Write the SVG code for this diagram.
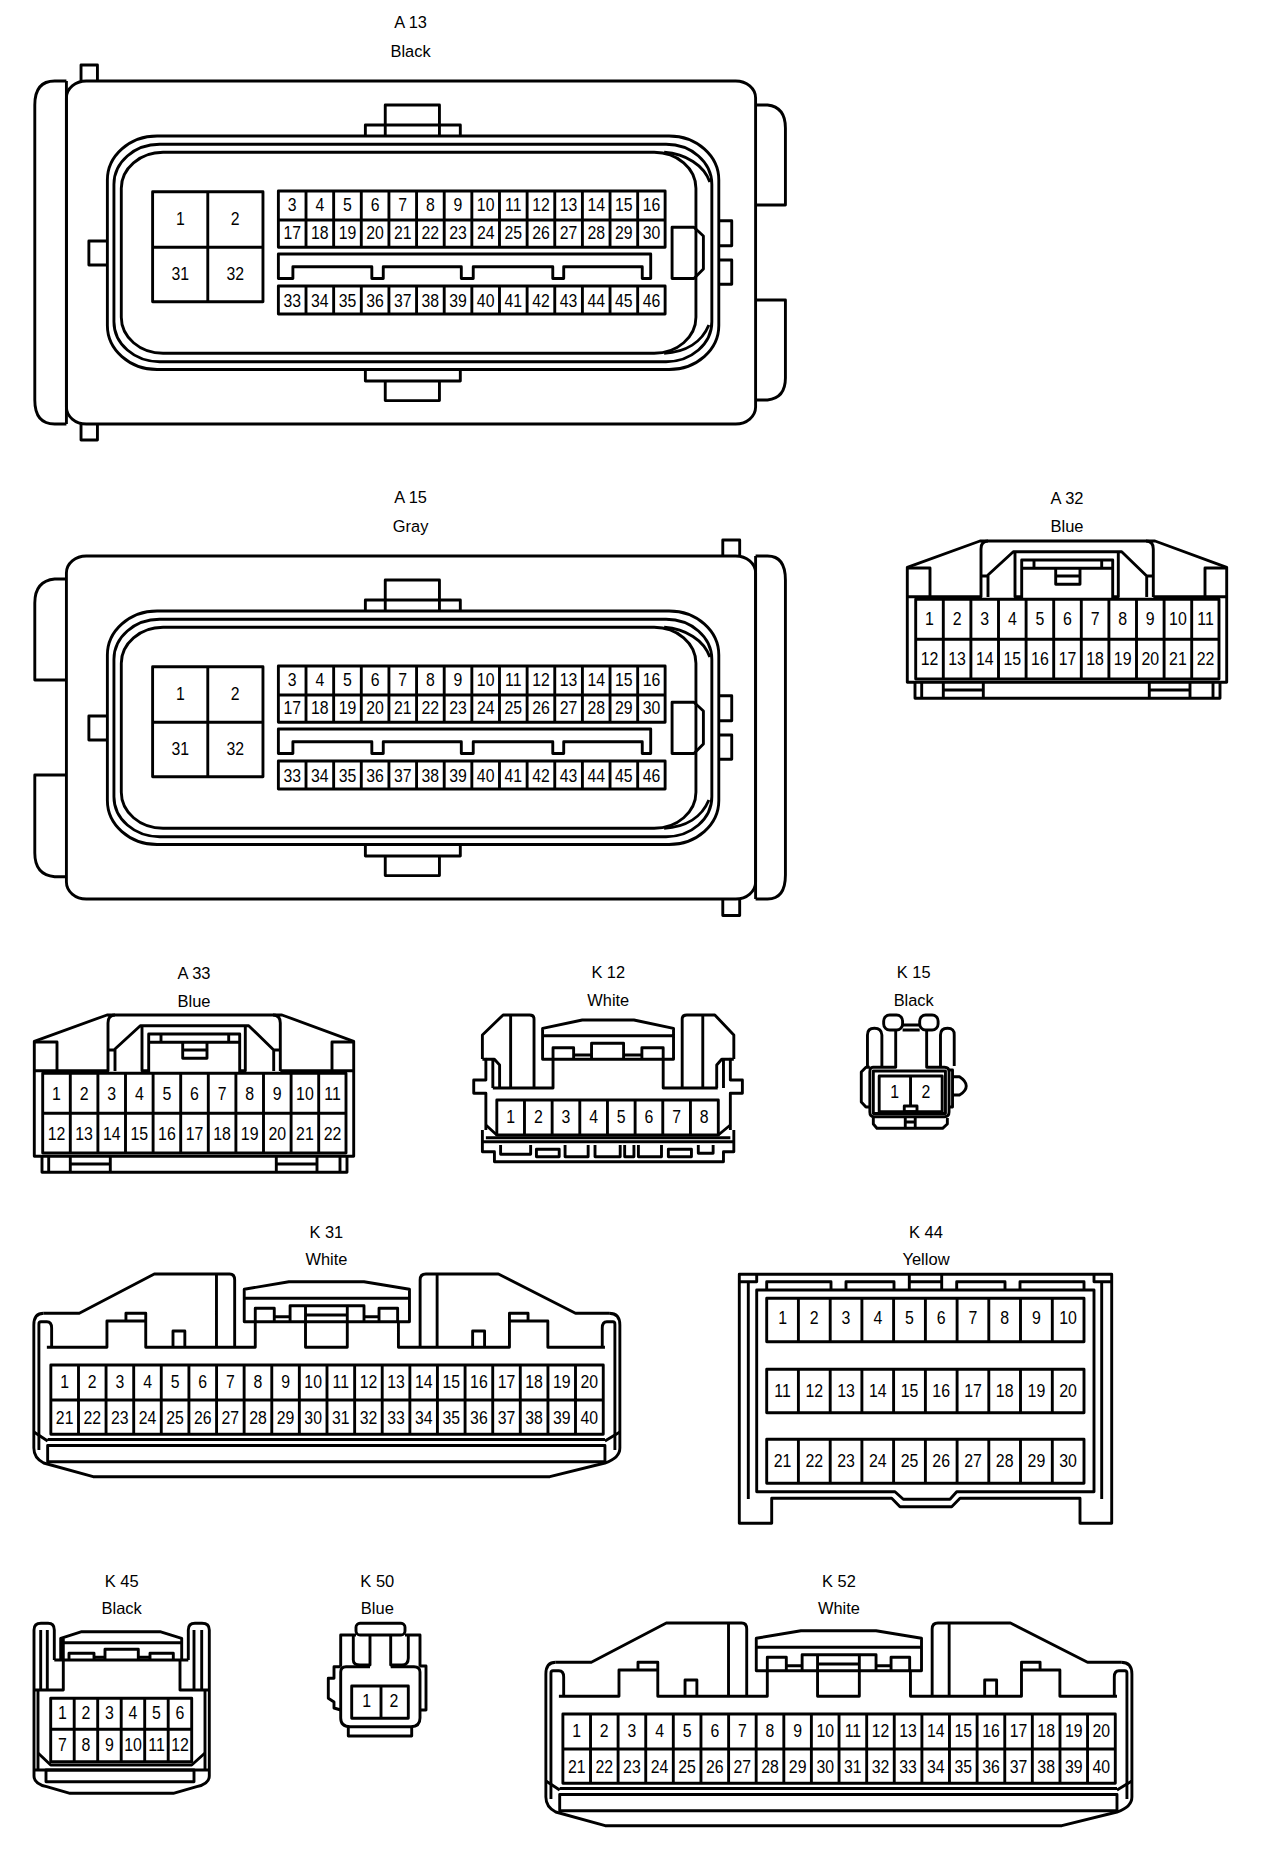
<svg xmlns="http://www.w3.org/2000/svg" xmlns:xlink="http://www.w3.org/1999/xlink" width="1280" height="1858" viewBox="0 0 1280 1858">
<style>
.s{fill:none;stroke:#000;stroke-width:2.9;stroke-linejoin:round}
text{font-family:"Liberation Sans",Arial,sans-serif;fill:#000}
.l{font-size:16.5px;text-anchor:middle}
.p text{font-size:18.5px;text-anchor:middle;transform-box:fill-box;transform-origin:center;transform:scaleX(.86)}
</style>
<defs>
<g id="ecu-inner" class="s">
<path d="M387.5 136V105H442V136M367.5 136V125H463V136"/>
<path d="M367.5 369.5V381H463V369.5M387.5 381V400.6H442V381"/>
<rect x="108" y="136" width="615" height="233.5" rx="50" ry="44"/>
<rect x="114.6" y="144.3" width="601.4" height="217.4" rx="46" ry="40"/>
<rect x="122" y="152.3" width="578" height="201" rx="42" ry="36"/>
<path d="M668 152.3C690 154 708 165 714 182M668 353.3C690 352 706 342 713 325"/>
<path d="M108 241H89.4V265H108M723 220.7H736V245.7H723M723 260H736V284.3H723"/>
<rect x="153.5" y="191.7" width="111" height="110"/>
<path d="M209 191.7V301.7M153.5 247.3H264.5"/>
<rect x="280" y="191" width="389" height="56.3"/>
<rect x="280" y="286" width="389" height="28"/>
<path d="M280 220H669M307.8 191V247.3M335.6 191V247.3M363.4 191V247.3M391.2 191V247.3M419 191V247.3M446.8 191V247.3M474.6 191V247.3M502.4 191V247.3M530.2 191V247.3M558 191V247.3M585.8 191V247.3M613.6 191V247.3M641.4 191V247.3"/>
<path d="M307.8 286V314M335.6 286V314M363.4 286V314M391.2 286V314M419 286V314M446.8 286V314M474.6 286V314M502.4 286V314M530.2 286V314M558 286V314M585.8 286V314M613.6 286V314M641.4 286V314"/>
<path d="M280 254H654.5V278.5H646V266.7H567V278.5H556V266.7H476V278.5H464V266.7H385.5V278.5H374V266.7H294.6V278.5H280Z"/>
<path d="M676 227.3H698L707.5 236V269L698 278.5H676Z"/>
</g>
<g id="a32-shell" class="s">
<path d="M907.3 682.3V567.3L980 541H1155L1226.7 567.3V682.3Z"/>
<path d="M915.7 599.3H1219V679H915.7Z"/>
<path d="M915.7 639.3H1219M943.3 599.3V679M970.9 599.3V679M998.5 599.3V679M1026.1 599.3V679M1053.7 599.3V679M1081.3 599.3V679M1108.9 599.3V679M1136.5 599.3V679M1164.1 599.3V679M1191.7 599.3V679"/>
<path d="M907.3 596.7H981V549Q981 541 988 541M1021 596.7H1015V551.7M1146.7 597V576L1121.7 551.7H1013.3L988 575V597M987.3 576H981M1118.3 551.7V596.7H1112.7M1146.7 576H1153.3M1153.3 597V549Q1153.3 541 1146 541M1153.3 596.7H1226.7"/>
<path d="M907.3 568H930V596.7M1226.7 568H1205V596.7"/>
<path d="M1021.7 598V560H1112.7V598M1021.7 568.3H1112.7M1034 560V568.3M1101.7 560V568.3"/>
<path d="M1055.7 568.3V584.3H1080V568.3M1055.7 576H1080"/>
<path d="M915 682.3V698.3H1220V682.3M921.7 682.3V698.3M1213 682.3V698.3M943.3 682.3V698.3M983.3 682.3V698.3M1149.3 682.3V698.3M1190 682.3V698.3M943.3 690H983.3M1149.3 690H1190"/>
</g>
<g id="k31-shell" class="s">
<path d="M43.8 1313.3H79.6L155 1274H230.7Q235.8 1274 235.8 1280V1347M217.5 1274V1347.3"/>
<path d="M612.2 1313.3H578.4L500.9 1274H428Q422.2 1274 422.2 1280V1347M439.3 1274V1347.3"/>
<path d="M43.8 1313.3Q33.9 1313.3 33.9 1325V1448Q33.9 1458 43.8 1463L93.5 1476.7H552.6L608 1463Q623 1458 623 1448V1325Q623 1313.3 612.2 1313.3"/>
<path d="M47 1347.3H107.4V1321H146.4V1347.3H256.5V1321.7M126.5 1321V1313.3H146.4V1321M173.8 1347.3V1331H185.7V1347.3"/>
<path d="M608 1347.3H550.6V1321H512V1347.3H400.4V1321.7M512 1321V1313.3H530.7V1321M475 1347.3V1331H487V1347.3"/>
<path d="M245.4 1321.7V1289.3L290.3 1281.7H365.8L411.5 1289.3V1321.7ZM245.4 1298.3H411.5"/>
<path d="M256.5 1321.7V1308.3H275.6V1321.7M291.5 1321.7V1305.7H365.8V1321.7M380.9 1321.7V1308.3H399.6V1321.7M275.6 1316.7H291.5M365.8 1316.7H380.9M307 1305.7V1347.3H349V1305.7M307 1315H349"/>
<path d="M39 1450V1324Q39 1321.7 41 1321.7H47Q51.8 1321.7 51.8 1328V1347.3M618 1450V1324Q618 1321.7 616 1321.7H610Q605.3 1321.7 605.3 1328V1347.3"/>
<rect x="51" y="1365" width="555.3" height="69.3"/>
<path d="M51 1400H606.3M78.8 1365V1434.3M106.5 1365V1434.3M134.3 1365V1434.3M162 1365V1434.3M189.8 1365V1434.3M217.6 1365V1434.3M245.3 1365V1434.3M273.1 1365V1434.3M300.8 1365V1434.3M328.6 1365V1434.3M356.4 1365V1434.3M384.1 1365V1434.3M411.9 1365V1434.3M439.6 1365V1434.3M467.4 1365V1434.3M495.2 1365V1434.3M522.9 1365V1434.3M550.7 1365V1434.3M578.4 1365V1434.3"/>
<path d="M34 1432L47.8 1441M608 1441L623 1432M47.8 1439.5H608M47.8 1445.5H608V1461.7H47.8Z"/>
</g>
</defs>
<rect width="1280" height="1858" fill="#fff"/>

<g id="A13" transform="matrix(.9942 0 0 1 0 0)">
<text class="l" x="413" y="28.5">A 13</text>
<text class="l" x="413" y="56.7">Black</text>
<g class="s">
<rect x="66.8" y="81" width="693.2" height="343" rx="20" ry="17"/>
<path d="M66.8 81H55Q35 81 35 105V400Q35 424 55 424H66.8M66.8 81V424"/>
<path d="M81.5 81V65H98V81M81.5 424V440H98V424"/>
<path d="M760 105H772Q790 107 790 128V205H760M760 300H790V378Q790 398 772 400H760"/>
</g>
<use xlink:href="#ecu-inner" href="#ecu-inner"/>
<g id="A13-pins" class="p">
<text x="181.4" y="225">1</text><text x="236.6" y="225">2</text><text x="181.4" y="280">31</text><text x="236.6" y="280">32</text>
<text x="293.9" y="210.7">3</text><text x="321.7" y="210.7">4</text><text x="349.5" y="210.7">5</text><text x="377.3" y="210.7">6</text><text x="405.1" y="210.7">7</text><text x="432.9" y="210.7">8</text><text x="460.7" y="210.7">9</text><text x="488.5" y="210.7">10</text><text x="516.3" y="210.7">11</text><text x="544.1" y="210.7">12</text><text x="571.9" y="210.7">13</text><text x="599.7" y="210.7">14</text><text x="627.5" y="210.7">15</text><text x="655.3" y="210.7">16</text>
<text x="293.9" y="239.3">17</text><text x="321.7" y="239.3">18</text><text x="349.5" y="239.3">19</text><text x="377.3" y="239.3">20</text><text x="405.1" y="239.3">21</text><text x="432.9" y="239.3">22</text><text x="460.7" y="239.3">23</text><text x="488.5" y="239.3">24</text><text x="516.3" y="239.3">25</text><text x="544.1" y="239.3">26</text><text x="571.9" y="239.3">27</text><text x="599.7" y="239.3">28</text><text x="627.5" y="239.3">29</text><text x="655.3" y="239.3">30</text>
<text x="293.9" y="306.7">33</text><text x="321.7" y="306.7">34</text><text x="349.5" y="306.7">35</text><text x="377.3" y="306.7">36</text><text x="405.1" y="306.7">37</text><text x="432.9" y="306.7">38</text><text x="460.7" y="306.7">39</text><text x="488.5" y="306.7">40</text><text x="516.3" y="306.7">41</text><text x="544.1" y="306.7">42</text><text x="571.9" y="306.7">43</text><text x="599.7" y="306.7">44</text><text x="627.5" y="306.7">45</text><text x="655.3" y="306.7">46</text>
</g>
</g>

<g id="A15" transform="matrix(.9942 0 0 1 0 0)">
<text class="l" x="413" y="503.5">A 15</text>
<text class="l" x="413" y="531.7">Gray</text>
<g class="s">
<rect x="66.8" y="556" width="693.2" height="343" rx="20" ry="17"/>
<path d="M760 556H772Q790 556 790 580V875Q790 899 772 899H760M760 556V899"/>
<path d="M727 556V540H744V556M727 899V915.5H744V899"/>
<path d="M66.8 579H55Q35 581 35 603V680H66.8M66.8 775H35V853Q35 875 55 876.7H66.8"/>
</g>
<use xlink:href="#ecu-inner" href="#ecu-inner" y="475"/>
<g id="A15-pins" class="p" transform="translate(0,475)">
<text x="181.4" y="225">1</text><text x="236.6" y="225">2</text><text x="181.4" y="280">31</text><text x="236.6" y="280">32</text>
<text x="293.9" y="210.7">3</text><text x="321.7" y="210.7">4</text><text x="349.5" y="210.7">5</text><text x="377.3" y="210.7">6</text><text x="405.1" y="210.7">7</text><text x="432.9" y="210.7">8</text><text x="460.7" y="210.7">9</text><text x="488.5" y="210.7">10</text><text x="516.3" y="210.7">11</text><text x="544.1" y="210.7">12</text><text x="571.9" y="210.7">13</text><text x="599.7" y="210.7">14</text><text x="627.5" y="210.7">15</text><text x="655.3" y="210.7">16</text>
<text x="293.9" y="239.3">17</text><text x="321.7" y="239.3">18</text><text x="349.5" y="239.3">19</text><text x="377.3" y="239.3">20</text><text x="405.1" y="239.3">21</text><text x="432.9" y="239.3">22</text><text x="460.7" y="239.3">23</text><text x="488.5" y="239.3">24</text><text x="516.3" y="239.3">25</text><text x="544.1" y="239.3">26</text><text x="571.9" y="239.3">27</text><text x="599.7" y="239.3">28</text><text x="627.5" y="239.3">29</text><text x="655.3" y="239.3">30</text>
<text x="293.9" y="306.7">33</text><text x="321.7" y="306.7">34</text><text x="349.5" y="306.7">35</text><text x="377.3" y="306.7">36</text><text x="405.1" y="306.7">37</text><text x="432.9" y="306.7">38</text><text x="460.7" y="306.7">39</text><text x="488.5" y="306.7">40</text><text x="516.3" y="306.7">41</text><text x="544.1" y="306.7">42</text><text x="571.9" y="306.7">43</text><text x="599.7" y="306.7">44</text><text x="627.5" y="306.7">45</text><text x="655.3" y="306.7">46</text>
</g>
</g>

<g id="A32">
<text class="l" x="1067" y="503.5">A 32</text>
<text class="l" x="1067" y="531.7">Blue</text>
<use xlink:href="#a32-shell" href="#a32-shell"/>
<g id="A32-pins" class="p">
<text x="929.5" y="625">1</text><text x="957.1" y="625">2</text><text x="984.7" y="625">3</text><text x="1012.3" y="625">4</text><text x="1039.9" y="625">5</text><text x="1067.5" y="625">6</text><text x="1095.1" y="625">7</text><text x="1122.7" y="625">8</text><text x="1150.3" y="625">9</text><text x="1177.9" y="625">10</text><text x="1205.5" y="625">11</text>
<text x="929.5" y="665">12</text><text x="957.1" y="665">13</text><text x="984.7" y="665">14</text><text x="1012.3" y="665">15</text><text x="1039.9" y="665">16</text><text x="1067.5" y="665">17</text><text x="1095.1" y="665">18</text><text x="1122.7" y="665">19</text><text x="1150.3" y="665">20</text><text x="1177.9" y="665">21</text><text x="1205.5" y="665">22</text>
</g>
</g>

<g id="A33">
<text class="l" x="194" y="978.5">A 33</text>
<text class="l" x="194" y="1006.5">Blue</text>
<use xlink:href="#a32-shell" href="#a32-shell" x="-873" y="474"/>
<g id="A33-pins" class="p" transform="translate(-873,475.5)">
<text x="929.5" y="625">1</text><text x="957.1" y="625">2</text><text x="984.7" y="625">3</text><text x="1012.3" y="625">4</text><text x="1039.9" y="625">5</text><text x="1067.5" y="625">6</text><text x="1095.1" y="625">7</text><text x="1122.7" y="625">8</text><text x="1150.3" y="625">9</text><text x="1177.9" y="625">10</text><text x="1205.5" y="625">11</text>
<text x="929.5" y="665">12</text><text x="957.1" y="665">13</text><text x="984.7" y="665">14</text><text x="1012.3" y="665">15</text><text x="1039.9" y="665">16</text><text x="1067.5" y="665">17</text><text x="1095.1" y="665">18</text><text x="1122.7" y="665">19</text><text x="1150.3" y="665">20</text><text x="1177.9" y="665">21</text><text x="1205.5" y="665">22</text>
</g>
</g>

<g id="K12" transform="matrix(.995 0 0 1 2.3 0)">
<text class="l" x="609" y="978.5">K 12</text>
<text class="l" x="609" y="1006.5">White</text>
<g class="s">
<path d="M493 1088H553.5V1059.3M534.4 1088V1019Q534.4 1015 530 1015H503.3L482.5 1035V1059M510.9 1015V1088"/>
<path d="M719 1088H664.2V1059.3M683.3 1088V1019Q683.3 1015 688 1015H716.1L735.2 1035V1059M704 1015V1088"/>
<path d="M543 1059.3V1028.3L582.9 1020H634.8L674.6 1028.3V1059.3ZM543 1035.7H674.6"/>
<path d="M553.5 1059.3V1047.7H574.2V1059.3M592.2 1059.3V1043.3H624.4V1059.3M642.8 1059.3V1047.7H664.2V1059.3M574.2 1055H592.2M624.4 1055H642.8"/>
<path d="M486 1059.3H494.6L499.8 1065V1088M493 1059.3V1088M731.7 1059.3H723L718 1065V1088M724.8 1059.3V1088"/>
<path d="M482.5 1059.3H486V1080H473.8V1093.3H486V1130M482.5 1130V1151.7H494.6V1161.7H724.8V1151.7H735.2V1130M735.2 1059.3H731.7V1080H743.8V1093.3H731.7V1130"/>
<rect x="497" y="1100" width="222.6" height="35"/>
<path d="M524.8 1100V1135M552.6 1100V1135M580.4 1100V1135M608.2 1100V1135M636 1100V1135M663.8 1100V1135M691.6 1100V1135"/>
<path d="M486 1125L497 1135M731.7 1125L719.6 1135M486 1137.7H731.7M482.5 1141.7H735.2"/>
<path d="M500.8 1145V1154.3H531V1145M565.6 1145V1156.7H588.8V1145M595.7 1145V1156.7H621V1145M625.5 1145V1156.7H634.8V1145M639.3 1145V1156.7H662.5V1145M699.5 1145V1153.3H714.4V1145"/>
<rect x="536.8" y="1149.3" width="22.9" height="7.4"/>
<rect x="669.4" y="1149.3" width="23.2" height="7.4"/>
</g>
<g id="K12-pins" class="p">
<text x="510.9" y="1123.3">1</text><text x="538.7" y="1123.3">2</text><text x="566.5" y="1123.3">3</text><text x="594.3" y="1123.3">4</text><text x="622.1" y="1123.3">5</text><text x="649.9" y="1123.3">6</text><text x="677.7" y="1123.3">7</text><text x="705.5" y="1123.3">8</text>
</g>
</g>

<g id="K15" transform="matrix(.995 0 0 1 2.3 0)">
<text class="l" x="916" y="978.5">K 15</text>
<text class="l" x="916" y="1006.5">Black</text>
<g class="s">
<rect x="885.8" y="1015" width="19" height="15" rx="6"/>
<rect x="922" y="1015" width="18.5" height="15" rx="6"/>
<path d="M904.8 1025H922M904.8 1030H922M897.9 1030V1067.3H875Q871.9 1067.3 871.9 1072V1112Q871.9 1116.7 876 1116.7H947Q951.5 1116.7 951.5 1112V1072Q951.5 1067.3 947 1067.3H929V1030"/>
<path d="M869.5 1066V1035Q869.5 1028.3 876.5 1028.3T884 1035V1066M942.9 1066V1035Q942.9 1028.3 950 1028.3T956.7 1035V1066"/>
<path d="M871.9 1067.3H868L863.3 1072V1102L868 1107H871.9M951.5 1070H955V1107H951.5M955 1076.7H962Q968.8 1081 968.8 1086T962 1095H955"/>
<rect x="875.4" y="1071" width="72.5" height="42.5"/>
<rect x="881.3" y="1076" width="63.3" height="35.7"/>
<path d="M912.8 1076V1106"/>
<rect x="906.5" y="1106" width="12.8" height="5.7"/>
<path d="M875.4 1118V1124L879 1128.3H945L949.8 1124V1118M907.5 1118V1128.3M917.5 1118V1128.3M907.5 1122H917.5"/>
</g>
<g id="K15-pins" class="p"><text x="896.8" y="1098.3">1</text><text x="928.3" y="1098.3">2</text></g>
</g>

<g id="K31" transform="matrix(.9948 0 0 1 .104 0)">
<text class="l" x="328" y="1237.7">K 31</text>
<text class="l" x="328" y="1265">White</text>
<use xlink:href="#k31-shell" href="#k31-shell"/>
<g id="K31-pins" class="p">
<text x="64.9" y="1388.3">1</text><text x="92.6" y="1388.3">2</text><text x="120.4" y="1388.3">3</text><text x="148.2" y="1388.3">4</text><text x="175.9" y="1388.3">5</text><text x="203.7" y="1388.3">6</text><text x="231.4" y="1388.3">7</text><text x="259.2" y="1388.3">8</text><text x="287" y="1388.3">9</text><text x="314.7" y="1388.3">10</text><text x="342.5" y="1388.3">11</text><text x="370.3" y="1388.3">12</text><text x="398" y="1388.3">13</text><text x="425.8" y="1388.3">14</text><text x="453.5" y="1388.3">15</text><text x="481.3" y="1388.3">16</text><text x="509.1" y="1388.3">17</text><text x="536.8" y="1388.3">18</text><text x="564.6" y="1388.3">19</text><text x="592.3" y="1388.3">20</text>
<text x="64.9" y="1424">21</text><text x="92.6" y="1424">22</text><text x="120.4" y="1424">23</text><text x="148.2" y="1424">24</text><text x="175.9" y="1424">25</text><text x="203.7" y="1424">26</text><text x="231.4" y="1424">27</text><text x="259.2" y="1424">28</text><text x="287" y="1424">29</text><text x="314.7" y="1424">30</text><text x="342.5" y="1424">31</text><text x="370.3" y="1424">32</text><text x="398" y="1424">33</text><text x="425.8" y="1424">34</text><text x="453.5" y="1424">35</text><text x="481.3" y="1424">36</text><text x="509.1" y="1424">37</text><text x="536.8" y="1424">38</text><text x="564.6" y="1424">39</text><text x="592.3" y="1424">40</text>
</g>
</g>

<g id="K44">
<text class="l" x="926" y="1237.7">K 44</text>
<text class="l" x="926" y="1265">Yellow</text>
<g class="s">
<path d="M739.3 1274.3H1111.7V1523.3H1080V1498.3H960L951.7 1506.7H900L891.7 1498.3H771.7V1523.3H739.3Z"/>
<path d="M748.3 1281.7V1499M1101.7 1281.7V1499M739.3 1281.7H756.7V1274.3M1111.7 1281.7H1094V1274.3"/>
<path d="M756.7 1290H1094V1491.7H956.7L950 1499.3H903.3L895 1491.7H756.7Z"/>
<path d="M766.7 1290V1281.7H831V1290M846 1290V1281.7H894V1290M909.3 1290V1274.3M941.7 1290V1274.3M909.3 1281.7H941.7M956.7 1290V1281.7H1005V1290M1020 1290V1281.7H1084V1290"/>
<rect x="766.7" y="1298.3" width="317.3" height="43.4"/>
<path d="M798.4 1298.3V1341.7M830.2 1298.3V1341.7M861.9 1298.3V1341.7M893.6 1298.3V1341.7M925.4 1298.3V1341.7M957.1 1298.3V1341.7M988.8 1298.3V1341.7M1020.5 1298.3V1341.7M1052.3 1298.3V1341.7"/>
<rect x="766.7" y="1369.3" width="317.3" height="43.4"/>
<path d="M798.4 1369.3V1412.7M830.2 1369.3V1412.7M861.9 1369.3V1412.7M893.6 1369.3V1412.7M925.4 1369.3V1412.7M957.1 1369.3V1412.7M988.8 1369.3V1412.7M1020.5 1369.3V1412.7M1052.3 1369.3V1412.7"/>
<rect x="766.7" y="1439.3" width="317.3" height="44"/>
<path d="M798.4 1439.3V1483.3M830.2 1439.3V1483.3M861.9 1439.3V1483.3M893.6 1439.3V1483.3M925.4 1439.3V1483.3M957.1 1439.3V1483.3M988.8 1439.3V1483.3M1020.5 1439.3V1483.3M1052.3 1439.3V1483.3"/>
</g>
<g id="K44-pins" class="p">
<text x="782.6" y="1324.3">1</text><text x="814.3" y="1324.3">2</text><text x="846" y="1324.3">3</text><text x="877.8" y="1324.3">4</text><text x="909.5" y="1324.3">5</text><text x="941.2" y="1324.3">6</text><text x="973" y="1324.3">7</text><text x="1004.7" y="1324.3">8</text><text x="1036.4" y="1324.3">9</text><text x="1068.1" y="1324.3">10</text>
<text x="782.6" y="1396.7">11</text><text x="814.3" y="1396.7">12</text><text x="846" y="1396.7">13</text><text x="877.8" y="1396.7">14</text><text x="909.5" y="1396.7">15</text><text x="941.2" y="1396.7">16</text><text x="973" y="1396.7">17</text><text x="1004.7" y="1396.7">18</text><text x="1036.4" y="1396.7">19</text><text x="1068.1" y="1396.7">20</text>
<text x="782.6" y="1466.7">21</text><text x="814.3" y="1466.7">22</text><text x="846" y="1466.7">23</text><text x="877.8" y="1466.7">24</text><text x="909.5" y="1466.7">25</text><text x="941.2" y="1466.7">26</text><text x="973" y="1466.7">27</text><text x="1004.7" y="1466.7">28</text><text x="1036.4" y="1466.7">29</text><text x="1068.1" y="1466.7">30</text>
</g>
</g>

<g id="K45">
<text class="l" x="121.7" y="1586.7">K 45</text>
<text class="l" x="121.7" y="1614.3">Black</text>
<g class="s">
<path d="M34 1690V1630Q34 1623.3 41 1623.3H48Q54.3 1623.3 54.3 1630V1660M40.7 1630V1690M47.3 1630V1690M63.3 1638.3V1690H34"/>
<path d="M209.3 1690V1630Q209.3 1623.3 202 1623.3H195Q188.3 1623.3 188.3 1630V1660M201.7 1630V1690M194 1630V1690M180 1660V1690H209.3"/>
<path d="M60.7 1660V1638.3L81.7 1631.7H160L181.7 1638.3V1660M60.7 1642.7H181.7M54.3 1660H188.3"/>
<path d="M69 1660V1653.3H94V1660M105 1660V1649.3H138.3V1660M150 1660V1653.3H173.3V1660M94 1657.3H105M138.3 1657.3H150"/>
<path d="M34 1690V1776Q34 1784 46.7 1786.7L70 1793.3H173.3L196.7 1786.7Q209.3 1784 209.3 1776V1690M38 1690V1770M205 1690V1770"/>
<rect x="50.7" y="1698.3" width="141" height="63.4"/>
<path d="M50.7 1729.3H191.7M74.2 1698.3V1761.7M97.7 1698.3V1761.7M121.2 1698.3V1761.7M144.7 1698.3V1761.7M168.2 1698.3V1761.7"/>
<path d="M38 1753L50.7 1765H191.7L205 1753M34 1770H209.3"/>
<rect x="46" y="1770" width="148" height="11.7"/>
</g>
<g id="K45-pins" class="p">
<text x="62.5" y="1719.3">1</text><text x="86" y="1719.3">2</text><text x="109.5" y="1719.3">3</text><text x="133" y="1719.3">4</text><text x="156.5" y="1719.3">5</text><text x="180" y="1719.3">6</text>
<text x="62.5" y="1750.7">7</text><text x="86" y="1750.7">8</text><text x="109.5" y="1750.7">9</text><text x="133" y="1750.7">10</text><text x="156.5" y="1750.7">11</text><text x="180" y="1750.7">12</text>
</g>
</g>

<g id="K50">
<text class="l" x="377.3" y="1586.7">K 50</text>
<text class="l" x="377.3" y="1614.3">Blue</text>
<g class="s">
<rect x="356" y="1623.3" width="49" height="11.7" rx="4"/>
<path d="M340.7 1666.7V1635H356M353.3 1635V1660Q353.3 1665 360 1665H370V1635M390.7 1635V1665H402Q408.3 1665 408.3 1658V1635M405 1635H420V1666.7"/>
<path d="M370 1666.7H346Q340.7 1666.7 340.7 1672V1718Q340.7 1726.7 350 1726.7H411Q420 1726.7 420 1718V1672Q420 1666.7 414 1666.7H390.7"/>
<path d="M340.7 1666.7H334V1678.3H328.3V1698.3L334 1702V1708L340.7 1710M420 1666H426V1710H420"/>
<rect x="351.7" y="1686" width="56.6" height="32.3"/>
<path d="M381 1686V1718.3"/>
<path d="M348.3 1726.7V1736H411.7V1726.7"/>
</g>
<g id="K50-pins" class="p"><text x="366.7" y="1707.3">1</text><text x="394" y="1707.3">2</text></g>
</g>

<g id="K52" transform="matrix(.9948 0 0 1 2.808 0)">
<text class="l" x="840.5" y="1586.7">K 52</text>
<text class="l" x="840.5" y="1614.3">White</text>
<use xlink:href="#k31-shell" href="#k31-shell" x="512" y="349"/>
<g id="K52-pins" class="p" transform="translate(512,349)">
<text x="64.9" y="1388.3">1</text><text x="92.6" y="1388.3">2</text><text x="120.4" y="1388.3">3</text><text x="148.2" y="1388.3">4</text><text x="175.9" y="1388.3">5</text><text x="203.7" y="1388.3">6</text><text x="231.4" y="1388.3">7</text><text x="259.2" y="1388.3">8</text><text x="287" y="1388.3">9</text><text x="314.7" y="1388.3">10</text><text x="342.5" y="1388.3">11</text><text x="370.3" y="1388.3">12</text><text x="398" y="1388.3">13</text><text x="425.8" y="1388.3">14</text><text x="453.5" y="1388.3">15</text><text x="481.3" y="1388.3">16</text><text x="509.1" y="1388.3">17</text><text x="536.8" y="1388.3">18</text><text x="564.6" y="1388.3">19</text><text x="592.3" y="1388.3">20</text>
<text x="64.9" y="1424">21</text><text x="92.6" y="1424">22</text><text x="120.4" y="1424">23</text><text x="148.2" y="1424">24</text><text x="175.9" y="1424">25</text><text x="203.7" y="1424">26</text><text x="231.4" y="1424">27</text><text x="259.2" y="1424">28</text><text x="287" y="1424">29</text><text x="314.7" y="1424">30</text><text x="342.5" y="1424">31</text><text x="370.3" y="1424">32</text><text x="398" y="1424">33</text><text x="425.8" y="1424">34</text><text x="453.5" y="1424">35</text><text x="481.3" y="1424">36</text><text x="509.1" y="1424">37</text><text x="536.8" y="1424">38</text><text x="564.6" y="1424">39</text><text x="592.3" y="1424">40</text>
</g>
</g>
</svg>
